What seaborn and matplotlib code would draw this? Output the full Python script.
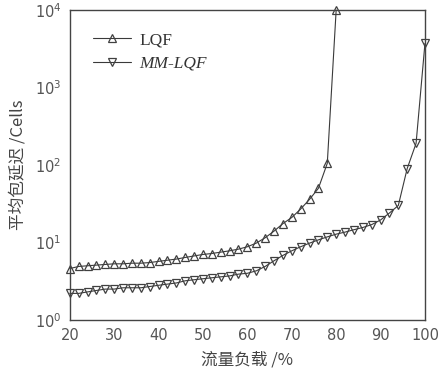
import numpy as np
import pandas as pd
import matplotlib
matplotlib.use("Agg")
import matplotlib.pyplot as plt
import seaborn as sns

load_lqf = list(range(20, 82, 2))
delay_lqf = [4.6, 4.9, 5.0, 5.1, 5.2, 5.3, 5.3, 5.4, 5.4, 5.5,
             5.7, 5.9, 6.1, 6.4, 6.7, 7.0, 7.2, 7.5, 7.8, 8.2,
             8.8, 9.8, 11.5, 14, 17.5, 21, 27, 36, 50, 105, 10000]

load_mm = list(range(20, 102, 2))
delay_mm = [2.2, 2.2, 2.3, 2.4, 2.5, 2.5, 2.6, 2.6, 2.6, 2.7,
            2.8, 2.9, 3.0, 3.2, 3.3, 3.4, 3.5, 3.6, 3.7, 3.9,
            4.0, 4.3, 4.9, 5.8, 6.8, 7.8, 8.8, 9.8, 10.8, 11.8,
            12.8, 13.6, 14.6, 15.6, 17.0, 19.5, 24, 30, 90, 190, 3700]

series_names = ["LQF", "MM-LQF"]
x_ticks = [20, 30, 40, 50, 60, 70, 80, 90, 100]
y_ticks = [1, 10, 100, 1000, 10000]

df_lqf = pd.DataFrame({"load": load_lqf, "delay": delay_lqf})
df_mm = pd.DataFrame({"load": load_mm, "delay": delay_mm})

sns.set_style("white")
plt.rcParams["font.family"] = ["DejaVu Sans"]

fig = plt.figure(figsize=(4.39, 3.72), dpi=100)
ax = fig.add_axes([0.159, 0.140, 0.809, 0.833])

line_col = "#3a3a3a"
common = dict(color=line_col, linewidth=0.8, markersize=6,
              markerfacecolor="none", markeredgecolor="#404040",
              markeredgewidth=0.9, clip_on=False)
sns.lineplot(data=df_lqf, x="load", y="delay", marker="^", ax=ax,
             label=series_names[0], **common)
sns.lineplot(data=df_mm, x="load", y="delay", marker="v", ax=ax,
             label=series_names[1], **common)

ax.set_yscale("log")
ax.set_xlim(20, 100)
ax.set_ylim(1, 10000)
ax.set_xticks(x_ticks)
ax.set_xticklabels([str(t) for t in x_ticks])
ax.set_yticks(y_ticks)
ax.set_yticklabels([r"$10^{%d}$" % int(np.log10(t)) for t in y_ticks])
ax.minorticks_off()
ax.tick_params(direction="in", length=5, width=0.8, colors="#333333",
               labelcolor="#555555", labelsize=10.5, pad=6)
for s in ax.spines.values():
    s.set_color("#444444")
    s.set_linewidth(1.0)

ax.set_xlabel("流量负载 /%", family=["Noto Sans CJK SC", "DejaVu Sans"],
              fontsize=12, color="#444444", labelpad=6)
ax.set_ylabel("平均包延迟 /Cells", family=["Noto Sans CJK SC", "DejaVu Sans"],
              fontsize=12, color="#444444", labelpad=6)

leg = ax.legend(loc="upper left", frameon=False,
                handlelength=2.2, handletextpad=0.5, labelspacing=0.45,
                bbox_to_anchor=(0.02, 0.98),
                prop={"family": "Liberation Serif", "size": 12.5})
texts = leg.get_texts()
for t in texts:
    t.set_color("#333333")
texts[1].set_fontstyle("italic")

fig.savefig("out.png", dpi=100)
